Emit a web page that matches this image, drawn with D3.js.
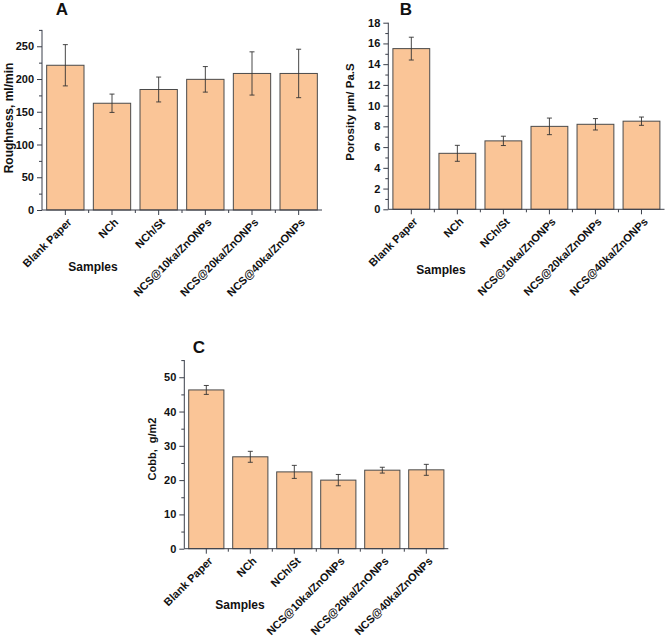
<!DOCTYPE html>
<html>
<head>
<meta charset="utf-8">
<script src="https://cdn.jsdelivr.net/npm/d3@7"></script>
<style>
  html, body { margin: 0; padding: 0; background: #fff; }
  svg { display: block; font-family: "Liberation Sans", Arial, sans-serif; }
</style>
</head>
<body>
<svg id="chart" width="668" height="642"></svg>
<script>
const categories = ["Blank Paper", "NCh", "NCh/St", "NCS@10ka/ZnONPs", "NCS@20ka/ZnONPs", "NCS@40ka/ZnONPs"];

const roughnessValues = [221, 163, 184, 199.5, 208.5, 208.5];
const roughnessErrors = [31.5, 14, 19, 19.5, 33, 37];
const roughnessTicks = [0, 50, 100, 150, 200, 250];

const porosityValues = [15.5, 5.4, 6.6, 8.0, 8.2, 8.5];
const porosityErrors = [1.1, 0.77, 0.45, 0.8, 0.55, 0.4];
const porosityTicks = [0, 2, 4, 6, 8, 10, 12, 14, 16, 18];

const cobbValues = [46.3, 26.8, 22.4, 20.0, 22.9, 23.0];
const cobbErrors = [1.3, 1.6, 1.9, 1.65, 0.85, 1.6];
const cobbTicks = [0, 10, 20, 30, 40, 50];

const panels = [
  { letter: "A", ylabel: "Roughness, ml/min", ylabelWeight: "bold", ylabSize: 12, values: roughnessValues, errors: roughnessErrors,
    ticks: roughnessTicks, minorStep: 25, ymax: 275,
    x0: 42, x1: 322, yb: 210, yt: 29.9, titleX: 62, titleY: 15, ylabX: 13, ylabY: 118, xlabX: 93, xlabY: 271 },
  { letter: "B", ylabel: "Porosity µm/ Pa.S", ylabelWeight: "bold", ylabSize: 11.5, values: porosityValues, errors: porosityErrors,
    ticks: porosityTicks, minorStep: 1, ymax: 18,
    x0: 388.3, x1: 664.5, yb: 209.3, yt: 22.7, titleX: 406, titleY: 15, ylabX: 354, ylabY: 112, xlabX: 441, xlabY: 274 },
  { letter: "C", ylabel: "Cobb,  g/m2", ylabelWeight: "bold", ylabSize: 11, values: cobbValues, errors: cobbErrors,
    ticks: cobbTicks, minorStep: 5, ymax: 55,
    x0: 184.3, x1: 448.3, yb: 548.7, yt: 360.1, titleX: 199, titleY: 353, ylabX: 156, ylabY: 449, xlabX: 240, xlabY: 609 }
];

const svg = d3.select("#chart");
const barFill = "#FAC597";
const barStroke = "#4a4a4a";
const axisColor = "#3a3f4a";

panels.forEach(p => {
  const g = svg.append("g");
  const x = d3.scaleBand().domain(categories).range([p.x0, p.x1]).paddingInner(0.2).paddingOuter(0.1);
  const y = d3.scaleLinear().domain([0, p.ymax]).range([p.yb, p.yt]);

  // bars
  g.selectAll("rect.bar").data(categories).enter().append("rect")
    .attr("class", "bar")
    .attr("x", d => x(d))
    .attr("width", x.bandwidth())
    .attr("y", (d, i) => y(p.values[i]))
    .attr("height", (d, i) => y(0) - y(p.values[i]))
    .attr("fill", barFill)
    .attr("stroke", barStroke)
    .attr("stroke-width", 1);

  // error bars
  const eb = g.selectAll("g.err").data(categories).enter().append("g").attr("class", "err");
  const cx = d => x(d) + x.bandwidth() / 2;
  eb.append("line")
    .attr("x1", cx).attr("x2", cx)
    .attr("y1", (d, i) => y(p.values[i] + p.errors[i]))
    .attr("y2", (d, i) => y(p.values[i] - p.errors[i]))
    .attr("stroke", "#333").attr("stroke-width", 0.9);
  [1, -1].forEach(s => {
    eb.append("line")
      .attr("x1", d => cx(d) - 2.5).attr("x2", d => cx(d) + 2.5)
      .attr("y1", (d, i) => y(p.values[i] + s * p.errors[i]))
      .attr("y2", (d, i) => y(p.values[i] + s * p.errors[i]))
      .attr("stroke", "#333").attr("stroke-width", 0.9);
  });

  // y axis minor ticks
  const minor = d3.range(0, p.ymax + 1e-9, p.minorStep).filter(v => !p.ticks.includes(v));
  const yMinor = d3.axisLeft(y).tickValues(minor).tickSize(3).tickFormat("");
  g.append("g").attr("transform", `translate(${p.x0},0)`).call(yMinor)
    .call(a => a.select(".domain").remove())
    .call(a => a.selectAll("line").attr("stroke", axisColor));

  // y axis
  const yAxis = d3.axisLeft(y).tickValues(p.ticks).tickSize(5).tickSizeOuter(0).tickPadding(3);
  g.append("g").attr("transform", `translate(${p.x0},0)`).call(yAxis)
    .call(a => a.select(".domain").attr("stroke", axisColor).attr("d", `M0,${p.yb}V${p.yt}`))
    .call(a => a.selectAll("line").attr("stroke", axisColor))
    .call(a => a.selectAll("text").attr("font-size", 11).attr("font-weight", "bold").attr("fill", "#111")
      .attr("font-family", "Liberation Sans, Arial, sans-serif"));

  // x axis minor ticks at band boundaries
  const step = x.step();
  const bounds = categories.slice(1).map(c => x(c) - step * x.paddingInner() / 2);
  g.selectAll("line.xminor").data(bounds).enter().append("line")
    .attr("x1", d => d).attr("x2", d => d)
    .attr("y1", p.yb).attr("y2", p.yb + 3)
    .attr("stroke", axisColor);

  // x axis
  const xAxis = d3.axisBottom(x).tickSize(5).tickSizeOuter(0);
  const xa = g.append("g").attr("transform", `translate(0,${p.yb})`).call(xAxis);
  xa.select(".domain").attr("stroke", axisColor).attr("d", `M${p.x0},0H${p.x1}`);
  xa.selectAll("line").attr("stroke", axisColor);
  xa.selectAll("text")
    .attr("font-size", 11).attr("font-weight", "bold").attr("fill", "#111")
    .attr("font-family", "Liberation Sans, Arial, sans-serif")
    .attr("text-anchor", "end")
    .attr("dy", null).attr("y", null)
    .attr("transform", "translate(7,13) rotate(-45)");

  // titles and labels
  g.append("text").text(p.letter)
    .attr("x", p.titleX).attr("y", p.titleY)
    .attr("text-anchor", "middle").attr("font-size", 17).attr("font-weight", "bold").attr("fill", "#111");

  g.append("text").text(p.ylabel)
    .attr("transform", `translate(${p.ylabX},${p.ylabY}) rotate(-90)`)
    .attr("text-anchor", "middle").attr("font-size", p.ylabSize)
    .attr("font-weight", p.ylabelWeight).attr("fill", "#111")
    .style("white-space", "pre");

  g.append("text").text("Samples")
    .attr("x", p.xlabX).attr("y", p.xlabY)
    .attr("text-anchor", "middle").attr("font-size", 12).attr("font-weight", "bold").attr("fill", "#111");
});
</script>
</body>
</html>
